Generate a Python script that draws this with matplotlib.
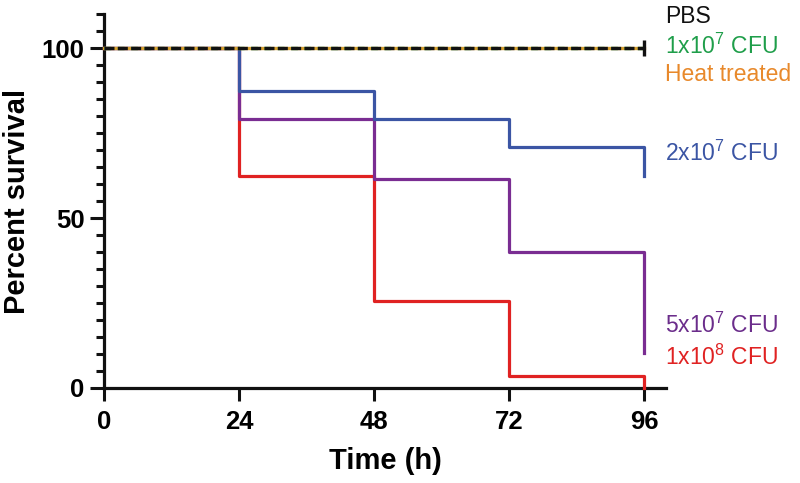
import matplotlib
matplotlib.use("Agg")
import matplotlib.pyplot as plt
from matplotlib.ticker import MultipleLocator, FixedLocator

plt.rcParams['font.family'] = ['Liberation Sans', 'DejaVu Sans']
plt.rcParams['mathtext.fontset'] = 'custom'
plt.rcParams['mathtext.rm'] = 'Liberation Sans'
plt.rcParams['mathtext.it'] = 'Liberation Sans'

# Data
times = [0, 24, 48, 72, 96]
surv_2e7 = [100, 87.5, 79.2, 70.8, 62.5]
surv_5e7 = [100, 79.2, 61.5, 40.0, 10.3]
surv_1e8 = [100, 62.5, 25.6, 3.5, 0.0]
flat_times = [0, 96]
surv_flat = [100, 100]

labels = ['PBS', r'1x10$^{7}$ CFU', 'Heat treated', r'2x10$^{7}$ CFU',
          r'5x10$^{7}$ CFU', r'1x10$^{8}$ CFU']
label_y = [109.4, 100.6, 92.1, 69.2, 18.5, 9.1]
label_colors = ['#111111', '#1f9e4a', '#e8892b', '#3b55a4', '#6b2d8b', '#e02222']

xticks = [0, 24, 48, 72, 96]
yticks = [0, 50, 100]

fig = plt.figure(figsize=(8, 4.83), dpi=100)
ax = fig.add_axes([0.13, 0.1967, 0.703, 0.774])

lw = 2.3
ax.step(times, surv_1e8, where='post', color='#e02222', lw=lw, zorder=3, clip_on=False)
ax.step(times, surv_5e7, where='post', color='#7a2d92', lw=lw, zorder=4, clip_on=False)
ax.step(times, surv_2e7, where='post', color='#3b55a4', lw=lw, zorder=5, clip_on=False)

ax.plot(flat_times, surv_flat, color='#d8a030', lw=2.4, zorder=6, clip_on=False)
ax.plot(flat_times, surv_flat, color='#1f9e4a', lw=2.4, zorder=7, clip_on=False,
        dashes=(2, 2))
ax.plot(flat_times, surv_flat, color='#111111', lw=2.4, zorder=8, clip_on=False,
        dashes=(3, 1.0))
ax.plot([flat_times[-1]], [surv_flat[-1]], marker='|', color='#111111', ms=12, mew=2.4,
        zorder=9, clip_on=False)

for lab, yy, c in zip(labels, label_y, label_colors):
    ax.text(99.7, yy, lab, color=c, fontsize=16.5, va='center', ha='left', clip_on=False)

ax.set_xlim(0, 100)
ax.set_ylim(0, 110)
ax.xaxis.set_major_locator(FixedLocator(xticks))
ax.yaxis.set_major_locator(FixedLocator(yticks))
ax.yaxis.set_minor_locator(MultipleLocator(5))

for s in ['top', 'right']:
    ax.spines[s].set_visible(False)
for s in ['left', 'bottom']:
    ax.spines[s].set_linewidth(2.3)
    ax.spines[s].set_color('#111111')

ax.tick_params(axis='both', which='major', direction='out', length=10, width=2.2,
               color='#111111', labelsize=18.5)
ax.tick_params(axis='y', which='major', pad=4)
ax.tick_params(axis='y', which='minor', direction='out', length=5.5, width=2.2, color='#111111')
ax.tick_params(axis='x', which='major', length=9, pad=7)
for t in ax.get_xticklabels() + ax.get_yticklabels():
    t.set_fontweight('bold')

ax.set_xlabel('Time (h)', fontsize=21, fontweight='bold', labelpad=9)
ax.set_ylabel('Percent survival', fontsize=21, fontweight='bold', labelpad=8)

fig.savefig('out.png', dpi=100)
